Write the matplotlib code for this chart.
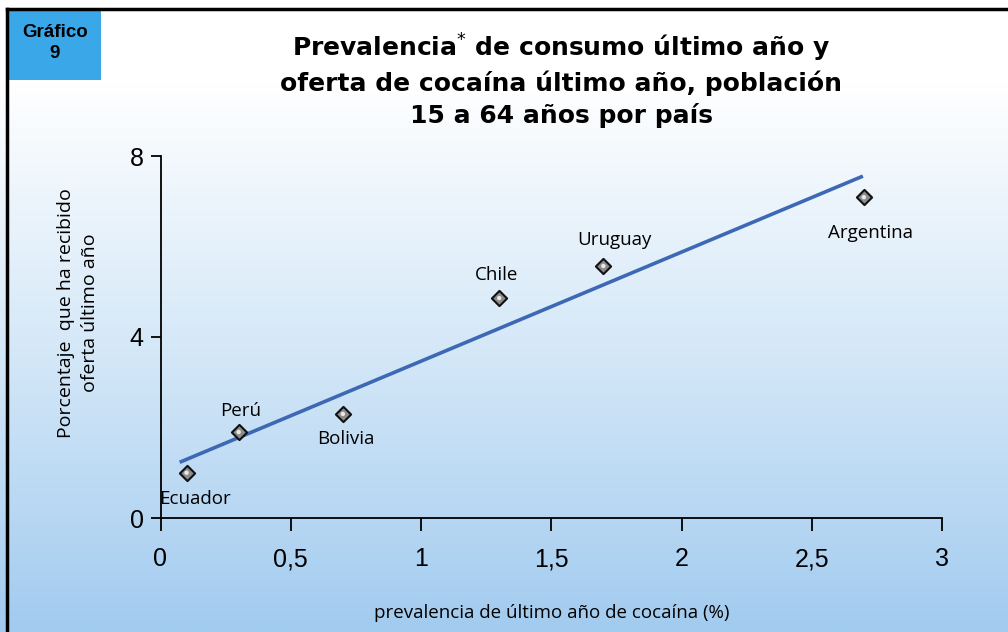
import numpy as np
import matplotlib
matplotlib.use("Agg")
import matplotlib.pyplot as plt
from matplotlib.colors import LinearSegmentedColormap
from matplotlib.patches import Rectangle
from matplotlib.lines import Line2D

countries = ["Ecuador", "Perú", "Bolivia", "Chile", "Uruguay", "Argentina"]
prevalence = [0.1, 0.3, 0.7, 1.3, 1.7, 2.7]
offer = [1.0, 1.9, 2.3, 4.86, 5.57, 7.09]
label_offsets = [(8, -26), (2, 21), (3, -25), (-3, 23), (11, 26), (7, -36)]
x_ticks = [0, 0.5, 1, 1.5, 2, 2.5, 3]
x_ticklabels = ["0", "0,5", "1", "1,5", "2", "2,5", "3"]
y_ticks = [0, 4, 8]

W, H = 1008, 632
fig = plt.figure(figsize=(W / 100, H / 100), dpi=100)

# background gradient
bg = fig.add_axes([0, 0, 1, 1], zorder=0)
bg.set_axis_off()
cmap = LinearSegmentedColormap.from_list(
    "bg", [(0.0, "#ffffff"), (0.13, "#ffffff"), (0.55, "#d5e8f8"), (1.0, "#a2cbef")])
grad = np.linspace(0, 1, 256).reshape(-1, 1)
bg.imshow(grad, aspect="auto", cmap=cmap, extent=[0, 1, 0, 1], origin="upper")
bg.set_xlim(0, 1)
bg.set_ylim(0, 1)

# frame lines
fig.add_artist(Line2D([7 / W, 7 / W], [0, 1 - 9 / H], color="black", lw=2.5, transform=fig.transFigure, zorder=5))
fig.add_artist(Line2D([7 / W, 1], [1 - 9 / H, 1 - 9 / H], color="black", lw=2.5, transform=fig.transFigure, zorder=5))

# Gráfico box
fig.add_artist(Rectangle((8 / W, 1 - 80 / H), 93 / W, 70 / H, transform=fig.transFigure,
                         facecolor="#3aa7e8", edgecolor="none", zorder=4))
fig.text(55 / W, 1 - 43 / H, "Gráfico\n9", ha="center", va="center", fontsize=13.5,
         fontweight="bold", family="Liberation Sans", linespacing=1.3, zorder=6)

# title
fig.text(561 / W, 1 - 80 / H,
         "Prevalencia$^{*}$ de consumo último año y\noferta de cocaína último año, población\n15 a 64 años por país",
         ha="center", va="center", fontsize=18, fontweight="bold", family="DejaVu Sans",
         linespacing=1.35, zorder=6)

ax = fig.add_axes([160.5 / W, 1 - 518 / H, (942 - 160.5) / W, (518 - 156) / H], zorder=2)
ax.patch.set_alpha(0)
ax.set_xlim(0, 3)
ax.set_ylim(0, 8)
for s in ["top", "right"]:
    ax.spines[s].set_visible(False)
for s in ["left", "bottom"]:
    ax.spines[s].set_linewidth(1.3)
ax.set_xticks(x_ticks)
ax.set_xticklabels(x_ticklabels)
ax.set_yticks(y_ticks)
ax.tick_params(axis="x", direction="out", length=9, width=1.3, pad=12, labelsize=18)
ax.tick_params(axis="y", direction="out", length=7, width=1.3, pad=5, labelsize=18)
for lab in ax.get_xticklabels() + ax.get_yticklabels():
    lab.set_family("Liberation Sans")

x = np.array(prevalence)
y = np.array(offer)
m, b = np.polyfit(x, y, 1)
xl = np.array([x.min() - 0.02, x.max() - 0.01])
ax.plot(xl, m * xl + b, color="#3d68b4", lw=2.6, zorder=3, clip_on=False)

ax.scatter(x, y, marker="D", s=60, facecolor="#8c8c8c", edgecolor="#111111", linewidth=1.5, zorder=4, clip_on=False)
ax.scatter(x, y, marker="o", s=10, facecolor="#e8e8e8", edgecolor="none", zorder=5, clip_on=False)

for c, xi, yi, off in zip(countries, x, y, label_offsets):
    ax.annotate(c, (xi, yi), xytext=off, textcoords="offset pixels", ha="center", va="center",
                fontsize=13.5, family="Open Sans", zorder=6)

ax.set_xlabel("prevalencia de último año de cocaína (%)", fontsize=13.5, family="Open Sans", labelpad=24)
ax.set_ylabel("Porcentaje  que ha recibido\noferta último año", fontsize=14, family="Open Sans",
              linespacing=1.45)
ax.yaxis.set_label_coords((99 - 160.5) / 781.5, (518 - 313) / 362)

fig.savefig("out.png", dpi=100)
